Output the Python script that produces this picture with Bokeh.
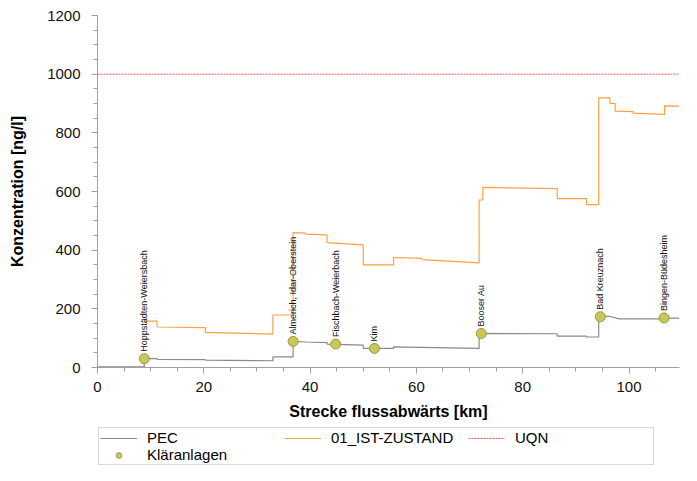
import math
from bokeh.plotting import figure
from bokeh.layouts import column
from bokeh.models import (Legend, LegendItem, SingleIntervalTicker, Range1d, ColumnDataSource)
from bokeh.core.properties import value
from bokeh.embed import file_html
from bokeh.resources import INLINE

# ---------------- data ----------------
# 01_IST-ZUSTAND polyline vertices (km, ng/l)
ist_km = [8.8, 11.2, 11.2, 20.3, 20.3, 33.0, 33.0, 36.8, 36.8, 39.2, 39.2, 43.2, 43.2, 50.0,
          50.0, 55.7, 55.7, 61.0, 61.0, 71.8, 71.8, 72.5, 72.5, 86.5, 86.5, 92.0, 92.0, 94.3,
          94.3, 96.4, 96.4, 97.4, 97.4, 100.8, 100.8, 106.7, 106.7, 109.5]
ist_val = [158, 158, 138, 136, 120, 114, 179, 179, 460, 458, 455, 452, 426, 418,
           350, 350, 375, 372, 368, 357, 571, 571, 614, 610, 576, 576, 555, 555,
           919, 919, 900, 900, 874, 872, 867, 863, 892, 891]

# PEC polyline vertices (km, ng/l)
pec_km = [0.0, 8.8, 8.8, 11.2, 11.2, 20.3, 20.3, 33.0, 33.0, 36.8, 36.8, 39.2, 43.2, 43.2,
          50.0, 50.0, 55.7, 55.7, 71.8, 71.8, 86.5, 86.5, 92.0, 92.0, 94.3, 94.3, 96.4,
          98.2, 106.7, 106.7, 109.5]
pec_val = [2, 2, 31, 30, 28, 27, 25, 23, 36, 36, 89, 87, 85, 80,
           76, 65, 65, 70, 65, 116, 115, 107, 107, 104, 104, 175, 174,
           166, 166, 168, 168]

# UQN (quality standard)
uqn_km = [0.0, 109.5]
uqn_val = [1000, 1000]

# Kläranlagen (treatment plants)
plant_names = ["Hoppstädten-Weiersbach", "Almerich, Idar-Oberstein", "Fischbach-Weierbach",
               "Kim", "Booser Au", "Bad Kreuznach", "Bingen-Büdesheim"]
plant_km = [8.8, 36.8, 44.8, 52.1, 72.2, 94.6, 106.6]
plant_val = [30, 89, 80, 65, 116, 173, 169]

legend_labels = ["PEC", "01_IST-ZUSTAND", "UQN", "Kläranlagen"]

x_ticks_interval = 20
y_ticks_interval = 200

# ---------------- styles ----------------
FONT = "Liberation Sans"
PEC_COLOR = "#8a8a8a"
IST_COLOR = "#ffa040"
UQN_COLOR = "#e05a5a"
PL_FILL = "#c8c85a"
PL_LINE = "#9a9a3a"

# ---------------- main figure ----------------
p = figure(width=681, height=426, output_backend="svg", toolbar_location=None,
           x_range=Range1d(0, 109.5), y_range=Range1d(0, 1200),
           min_border_left=97, min_border_right=2, min_border_top=15, min_border_bottom=59)
p.outline_line_color = None
p.xgrid.visible = False
p.ygrid.visible = False

for ax, interval in ((p.xaxis[0], x_ticks_interval), (p.yaxis[0], y_ticks_interval)):
    ax.ticker = SingleIntervalTicker(interval=interval, num_minor_ticks=4)
    ax.axis_line_color = "#a0a0a0"
    ax.major_tick_line_color = "#a0a0a0"
    ax.minor_tick_line_color = "#a0a0a0"
    ax.major_tick_out = 6
    ax.major_tick_in = 0
    ax.minor_tick_out = 4
    ax.minor_tick_in = 0
    ax.major_label_text_font = FONT
    ax.major_label_text_font_size = "15px"
    ax.major_label_text_color = "#111111"
    ax.axis_label_text_font = FONT
    ax.axis_label_text_font_size = "16px"
    ax.axis_label_text_font_style = "bold"
    ax.axis_label_text_color = "#000000"

p.xaxis.axis_label = "Strecke flussabwärts [km]"
p.yaxis.axis_label = "Konzentration [ng/l]"
p.xaxis.major_label_standoff = 8
p.xaxis.axis_label_standoff = 8
p.yaxis.major_label_standoff = 11
p.yaxis.axis_label_standoff = 18

r_uqn = p.line(uqn_km, uqn_val, line_color=UQN_COLOR, line_width=1, line_dash="2 1")
r_pec = p.line(pec_km, pec_val, line_color=PEC_COLOR, line_width=1.2)
r_ist = p.line(ist_km, ist_val, line_color=IST_COLOR, line_width=1.2)

src = ColumnDataSource(dict(x=plant_km, y=plant_val, name=plant_names))
p.text(x="x", y="y", text="name", source=src, angle=math.pi / 2,
       text_align="left", text_baseline="middle", y_offset=-7,
       text_font=value(FONT), text_font_size="9px", text_color="#111111")
p.scatter(x="x", y="y", source=src, size=10, fill_color=PL_FILL,
          line_color=PL_LINE, line_width=1)

# ---------------- legend strip (proxies hold no visible data) ----------------
lg = figure(width=681, height=39, output_backend="svg", toolbar_location=None,
            x_range=Range1d(0, 1), y_range=Range1d(0, 1),
            x_axis_location=None, y_axis_location=None,
            min_border_left=0, min_border_right=0, min_border_top=0, min_border_bottom=0)
lg.xgrid.visible = False
lg.ygrid.visible = False
lg.outline_line_color = None
proxy = ColumnDataSource(dict(x=[float("nan")], y=[float("nan")]))
l_pec = lg.line("x", "y", source=proxy, line_color=PEC_COLOR, line_width=1.2)
l_ist = lg.line("x", "y", source=proxy, line_color=IST_COLOR, line_width=1.2)
l_uqn = lg.line("x", "y", source=proxy, line_color=UQN_COLOR, line_width=1, line_dash="2 1")
l_pl = lg.scatter("x", "y", source=proxy, size=8, fill_color=PL_FILL, line_color=PL_LINE)

legend = Legend(items=[LegendItem(label=t, renderers=[r]) for t, r in
                       zip(legend_labels, [l_pec, l_ist, l_uqn, l_pl])],
                orientation="horizontal", ncols=3, location="top_left")
legend.label_text_font = FONT
legend.label_text_font_size = "15px"
legend.label_text_color = "#000000"
legend.glyph_width = 37
legend.glyph_height = 14
legend.label_height = 14
legend.label_width = 137
legend.label_standoff = 10
legend.spacing = 0
legend.padding = 1
legend.margin = 1
legend.border_line_color = "#b0b0b0"
legend.border_line_width = 1
legend.background_fill_alpha = 1
lg.add_layout(legend, "center")

layout = column(p, lg, spacing=0)
open("out.html", "w").write(file_html(layout, INLINE))
